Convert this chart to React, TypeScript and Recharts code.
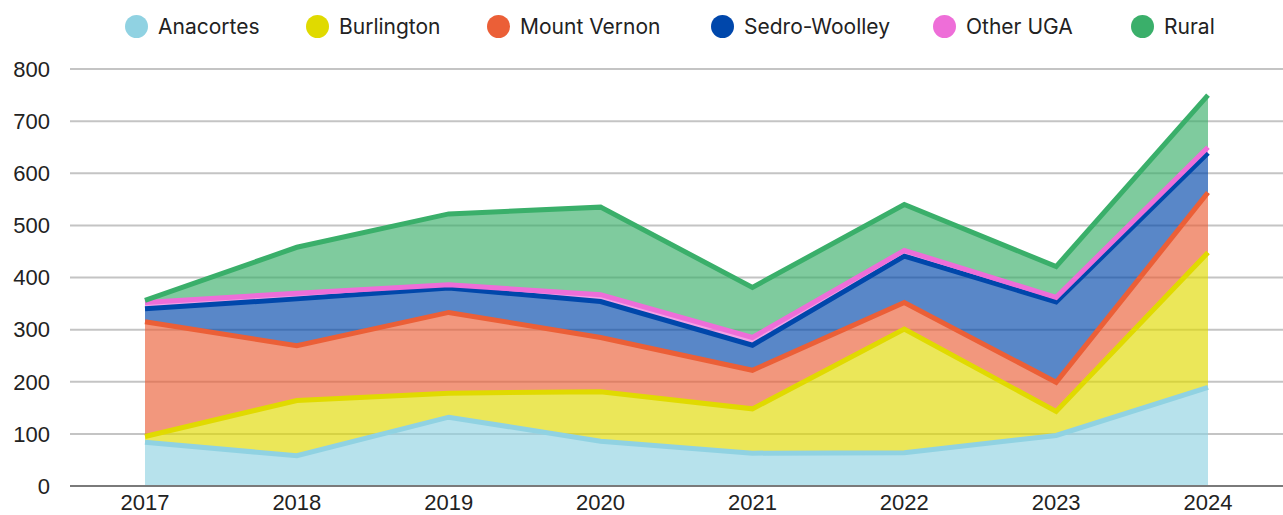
import React from "react";
import { AreaChart, Area, XAxis, YAxis, CartesianGrid, Legend } from "recharts";

const years = ["2017", "2018", "2019", "2020", "2021", "2022", "2023", "2024"];
const anacortes = [84, 58, 132, 86, 63, 64, 97, 189];
const burlington = [11, 106, 46, 95, 85, 237, 46, 259];
const mountVernon = [220, 105, 155, 104, 74, 51, 56, 115];
const sedroWoolley = [25, 90, 47, 69, 48, 89, 154, 76];
const otherUGA = [12, 11, 6, 13, 15, 11, 9, 11];
const rural = [4, 88, 136, 168, 96, 88, 59, 100];
const yTicks = [0, 100, 200, 300, 400, 500, 600, 700, 800];

const series = [
  { key: "Anacortes", values: anacortes, color: "#90d2e2" },
  { key: "Burlington", values: burlington, color: "#e0da00" },
  { key: "Mount Vernon", values: mountVernon, color: "#eb5f37" },
  { key: "Sedro-Woolley", values: sedroWoolley, color: "#0047ab" },
  { key: "Other UGA", values: otherUGA, color: "#ee6ed8" },
  { key: "Rural", values: rural, color: "#3aaf6a" },
];

const data = years.map((y, i) => {
  const row: Record<string, string | number> = { year: y };
  series.forEach((s) => {
    row[s.key] = s.values[i];
  });
  return row;
});

const legendLefts = [125, 306, 487, 711, 933, 1131];

const LegendContent = () => (
  <div style={{ position: "relative", width: 1283, height: 52 }}>
    {series.map((s, i) => (
      <div
        key={s.key}
        style={{
          position: "absolute",
          left: legendLefts[i],
          top: 14,
          display: "flex",
          alignItems: "center",
          whiteSpace: "nowrap",
        }}
      >
        <span
          style={{
            display: "inline-block",
            width: 23,
            height: 23,
            borderRadius: "50%",
            background: s.color,
            marginRight: 10,
          }}
        />
        <span style={{ fontFamily: "Inter, 'Noto Sans', sans-serif", fontSize: 21, color: "#222" }}>
          {s.key}
        </span>
      </div>
    ))}
  </div>
);

export default function App() {
  return (
    <div style={{ position: "absolute", left: 0, top: 0, background: "#fff" }}>
      <AreaChart
        width={1283}
        height={515}
        data={data}
        margin={{ top: 69, right: 0, bottom: 0, left: 0 }}
      >
        <CartesianGrid vertical={false} stroke="#c4c4c4" strokeWidth={2} />
        <XAxis
          dataKey="year"
          height={29}
          padding={{ left: 75, right: 75 }}
          axisLine={{ stroke: "#7a7a7a", strokeWidth: 2 }}
          tickLine={false}
          tick={{ fill: "#222", fontSize: 22, fontFamily: "'Liberation Sans', Arial, sans-serif" }}
        />
        <YAxis
          width={70}
          domain={[0, 800]}
          ticks={yTicks}
          axisLine={false}
          tickLine={false}
          tickMargin={14}
          tick={{ fill: "#222", fontSize: 22, fontFamily: "'Liberation Sans', Arial, sans-serif" }}
        />
        <Legend
          verticalAlign="middle"
          align="center"
          layout="horizontal"
          wrapperStyle={{ top: 0, left: 0, width: 1283, height: 52 }}
          content={() => <LegendContent />}
        />
        {series.map((s) => (
          <Area
            key={s.key + "-fill"}
            type="linear"
            dataKey={s.key}
            stackId="fill"
            stroke="none"
            fill={s.color}
            fillOpacity={0.65}
            isAnimationActive={false}
            legendType="none"
          />
        ))}
        {series.map((s) => (
          <Area
            key={s.key + "-line"}
            type="linear"
            dataKey={s.key}
            stackId="line"
            stroke={s.color}
            strokeWidth={5}
            fill="none"
            fillOpacity={0}
            isAnimationActive={false}
            legendType="none"
          />
        ))}
      </AreaChart>
    </div>
  );
}
